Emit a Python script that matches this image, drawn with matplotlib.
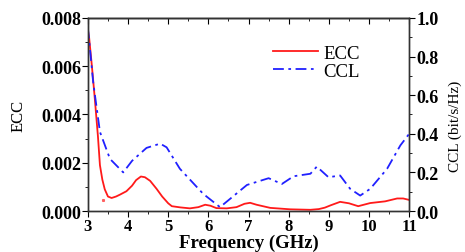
import matplotlib
matplotlib.use("Agg")
import matplotlib.pyplot as plt
from matplotlib.ticker import MultipleLocator

plt.rcParams['font.family'] = ['Liberation Serif', 'DejaVu Serif']

# ECC (left axis)
ecc_f = [3.0, 3.03, 3.1, 3.17, 3.25, 3.3, 3.36, 3.42, 3.5, 3.59, 3.7, 3.8, 3.96, 4.1, 4.2, 4.32, 4.42,
         4.55, 4.71, 4.85, 5.0, 5.09, 5.3, 5.54, 5.75, 5.92, 6.05, 6.2, 6.46, 6.7, 6.9, 7.04,
         7.2, 7.54, 8.04, 8.54, 8.75, 8.9, 9.05, 9.28, 9.5, 9.73, 10.03, 10.4, 10.7, 10.85, 11.0]
ecc_v = [0.0075, 0.0072, 0.006, 0.0047, 0.0031, 0.0019, 0.0013, 0.0009, 0.0006, 0.00054, 0.0006, 0.00068, 0.00082,
         0.00105, 0.00128, 0.00143, 0.0014, 0.00125, 0.00092, 0.0006, 0.00032, 0.0002, 0.00015, 0.00011,
         0.00016, 0.00026, 0.00022, 0.00012, 0.00011, 0.00016, 0.0003, 0.00034, 0.00026, 0.00013, 0.00007,
         0.00005, 0.00008, 0.00014, 0.00024, 0.00038, 0.00032, 0.0002, 0.00033, 0.0004, 0.00052,
         0.00052, 0.00046]
stray_f = [3.37]
stray_v = [0.00046]

# CCL (right axis)
ccl_f = [3.0, 3.13, 3.3, 3.55, 3.88, 4.1, 4.46, 4.8, 4.96, 5.29, 5.87, 6.29, 6.96, 7.5, 7.83,
         8.12, 8.54, 8.7, 8.99, 9.28, 9.53, 9.78, 10.03, 10.45, 10.78, 11.0]
ccl_v = [0.95, 0.67, 0.41, 0.27, 0.2, 0.26, 0.327, 0.349, 0.33, 0.219, 0.089, 0.02, 0.135, 0.17, 0.14,
         0.18, 0.193, 0.23, 0.175, 0.184, 0.115, 0.08, 0.115, 0.219, 0.34, 0.4]

fig = plt.figure(figsize=(4.65, 2.53), dpi=100)
ax = fig.add_axes([0.189, 0.162, 0.691, 0.763])
ax2 = ax.twinx()

l1, = ax.plot(ecc_f, ecc_v, color='#ff1a1a', lw=1.3, label='ECC')
ax.plot(stray_f, stray_v, 's', color='#ff6060', ms=1.2)
l2, = ax2.plot(ccl_f, ccl_v, color='#2020ff', lw=1.3, ls=(0, (6, 2.5, 1.5, 2.5)), label='CCL')

ax.set_xlim(3, 11)
ax.set_ylim(0, 0.008)
ax2.set_ylim(0, 1.0)

ax.xaxis.set_major_locator(MultipleLocator(1))
ax.xaxis.set_minor_locator(MultipleLocator(0.5))
ax.yaxis.set_major_locator(MultipleLocator(0.002))
ax.yaxis.set_minor_locator(MultipleLocator(0.001))
ax2.yaxis.set_major_locator(MultipleLocator(0.2))
ax2.yaxis.set_minor_locator(MultipleLocator(0.1))
ax.yaxis.set_major_formatter(plt.FormatStrFormatter('%.3f'))
ax2.yaxis.set_major_formatter(plt.FormatStrFormatter('%.1f'))

# outward ticks on bottom/left/right, inward on top
ax.tick_params(which='both', direction='out', pad=1)
ax.tick_params(axis='x', labelsize=12)
ax.tick_params(axis='y', labelsize=13)
ax.tick_params(which='major', length=4)
ax.tick_params(which='minor', length=2)
ax2.tick_params(which='both', direction='out', labelsize=13, pad=1)
ax2.tick_params(which='major', length=4)
ax2.tick_params(which='minor', length=2)
top = ax.secondary_xaxis('top')
top.xaxis.set_major_locator(MultipleLocator(1))
top.xaxis.set_minor_locator(MultipleLocator(0.5))
top.tick_params(which='both', direction='in', labeltop=False)
top.tick_params(which='major', length=4)
top.tick_params(which='minor', length=2)
for t in ax.get_xticklabels() + ax.get_yticklabels() + ax2.get_yticklabels():
    t.set_fontweight('bold')

for a in (ax, ax2, top):
    for s in a.spines.values():
        s.set_linewidth(1.0)
        s.set_color('#333333')

ax.set_xlabel('Frequency (GHz)', fontsize=13.5, fontweight='bold', labelpad=0)
ax.set_ylabel('ECC', fontsize=12, labelpad=0)
ax.yaxis.set_label_coords(-0.19, 0.5)
ax2.set_ylabel('CCL (bit/s/Hz)', fontsize=11, labelpad=2)
ax2.yaxis.set_label_coords(1.122, 0.445)

ax2.legend([l1, l2], ['ECC', 'CCL'], loc='upper right', bbox_to_anchor=(0.87, 0.90),
           frameon=False, fontsize=13.5, handlelength=2.4, handletextpad=0.3,
           labelspacing=0.05, borderaxespad=0)

fig.savefig('out.png', dpi=100)
